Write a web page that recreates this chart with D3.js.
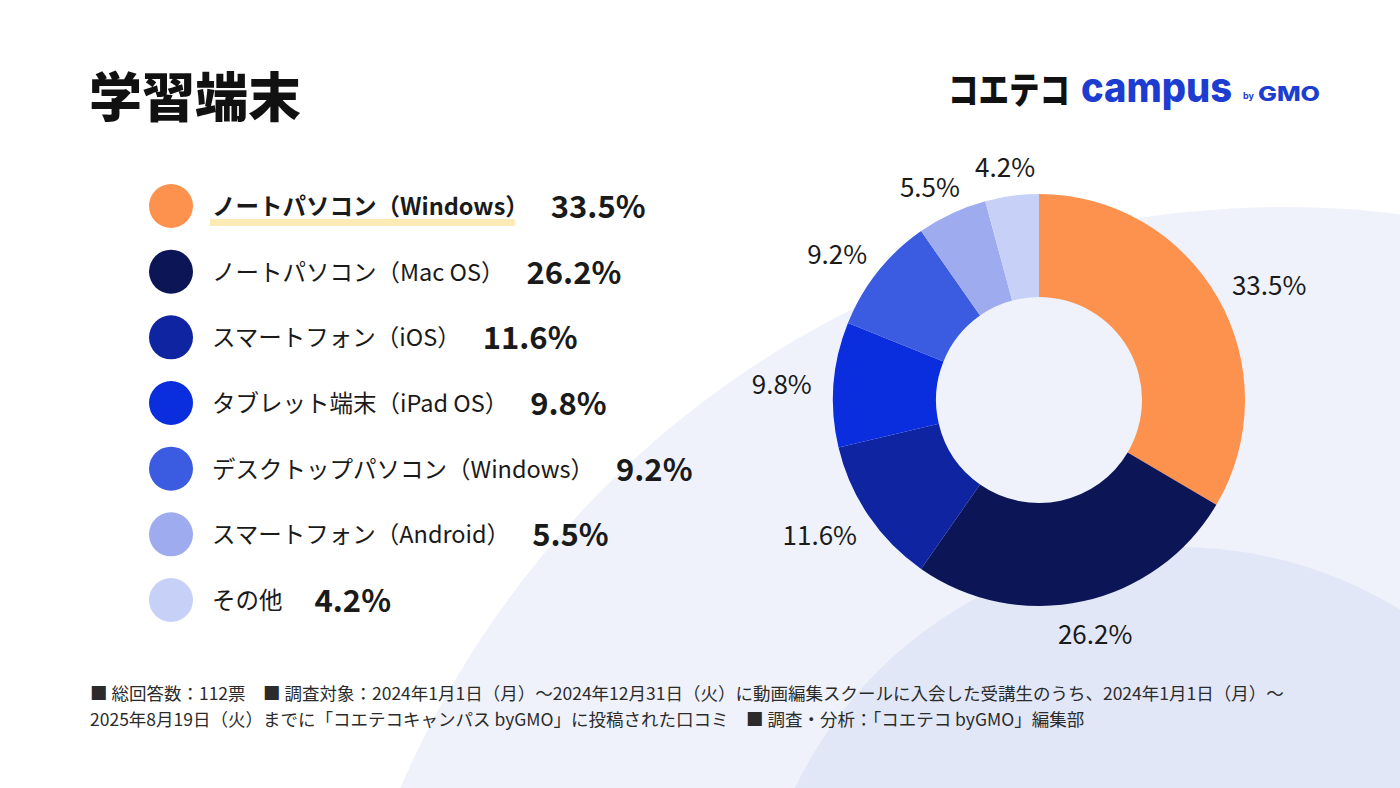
<!DOCTYPE html>
<html>
<head>
<meta charset="utf-8">
<script src="https://cdn.jsdelivr.net/npm/d3@7"></script>
<style>
  html, body { margin: 0; padding: 0; background: #fff; }
  svg { display: block; font-family: "Noto Sans CJK JP", "Noto Sans", sans-serif; }
</style>
</head>
<body>
<div id="chart"></div>
<script>
// data
const categories = [
  'ノートパソコン（Windows）',
  'ノートパソコン（Mac OS）',
  'スマートフォン（iOS）',
  'タブレット端末（iPad OS）',
  'デスクトップパソコン（Windows）',
  'スマートフォン（Android）',
  'その他'
];
const shares = [33.5, 26.2, 11.6, 9.8, 9.2, 5.5, 4.2];
const sliceColors = ['#fd914e', '#0c1657', '#0e24a1', '#0a2ddd', '#3b5be0', '#9eacef', '#c7d1f8'];

const title = '学習端末';
const footLines = [
  '■ 総回答数：112票　■ 調査対象：2024年1月1日（月）～2024年12月31日（火）に動画編集スクールに入会した受講生のうち、2024年1月1日（月）～',
  '2025年8月19日（火）までに「コエテコキャンパス byGMO」に投稿された口コミ　■ 調査・分析：「コエテコ byGMO」編集部'
];

const W = 1400, H = 788;
const textColor = '#1a1a1a';

const svg = d3.select('#chart')
  .append('svg')
  .attr('width', W)
  .attr('height', H);

// background shapes
svg.append('rect').attr('width', W).attr('height', H).attr('fill', '#ffffff');
svg.append('circle').attr('cx', 1283).attr('cy', 1168).attr('r', 961).attr('fill', '#eff2fb');
svg.append('circle').attr('cx', 1178).attr('cy', 972).attr('r', 425).attr('fill', '#e2e7f8');

// title
svg.append('text')
  .attr('x', 89)
  .attr('y', 117)
  .style('font-size', '53px')
  .style('font-weight', 900)
  .style('fill', '#111')
  .text(title);

// logo
const logo = svg.append('g');
logo.append('text')
  .attr('x', 948).attr('y', 104)
  .attr('textLength', 122).attr('lengthAdjust', 'spacingAndGlyphs')
  .style('font-size', '37px').style('font-weight', 900).style('fill', '#111')
  .text('コエテコ');
logo.append('text')
  .attr('x', 1081).attr('y', 102)
  .attr('textLength', 151).attr('lengthAdjust', 'spacingAndGlyphs')
  .style('font-family', 'Inter, Lato, sans-serif')
  .style('font-size', '41px').style('font-weight', 800).style('fill', '#1c3dcf')
  .text('campus');
logo.append('text')
  .attr('x', 1243).attr('y', 99)
  .style('font-family', 'Inter, sans-serif')
  .style('font-size', '9px').style('font-weight', 700).style('fill', '#1c3dcf')
  .text('by');
logo.append('text')
  .attr('x', 1258).attr('y', 101)
  .attr('textLength', 62).attr('lengthAdjust', 'spacingAndGlyphs')
  .style('font-family', 'Inter, sans-serif')
  .style('font-size', '20px').style('font-weight', 800).style('fill', '#1c3dcf')
  .text('GMO');

// legend
const legendY = d3.scalePoint()
  .domain(categories)
  .range([206, 600]);

const legend = svg.append('g');
categories.forEach((c, i) => {
  const y = legendY(c);
  const row = legend.append('g');
  row.append('circle')
    .attr('cx', 171).attr('cy', y).attr('r', 22)
    .attr('fill', sliceColors[i]);

  const label = row.append('text')
    .attr('x', 212).attr('y', y + 9)
    .style('font-size', '23.5px')
    .style('font-weight', i === 0 ? 700 : 400)
    .style('fill', textColor)
    .text(c);
  const lw = label.node().getComputedTextLength();

  if (i === 0) {
    row.insert('rect', 'text')
      .attr('x', 210).attr('y', y + 13)
      .attr('width', lw - 12).attr('height', 7)
      .attr('fill', '#fcebb4');
  }

  // full-width closing paren already carries trailing space
  const gap = c.endsWith('）') ? 22 : 32;
  row.append('text')
    .attr('x', 212 + lw + gap).attr('y', y + 12)
    .style('font-size', '31px')
    .style('font-weight', 700)
    .style('fill', textColor)
    .text(shares[i] + '%');
});

// donut
const cx = 1039, cy = 400;
const outerR = 206, innerR = 103;

const pie = d3.pie().sort(null).value(d => d);
const arcs = pie(shares);
const arc = d3.arc().innerRadius(innerR).outerRadius(outerR);

const donut = svg.append('g').attr('transform', `translate(${cx},${cy})`);
donut.selectAll('path')
  .data(arcs)
  .enter()
  .append('path')
  .attr('d', arc)
  .attr('fill', (d, i) => sliceColors[i]);

// outside labels
const labelR = 226;
const labelW = d => (String(d.data).length >= 4 ? 78 : 64);
donut.selectAll('.pct')
  .data(arcs)
  .enter()
  .append('text')
  .attr('class', 'pct')
  .attr('x', d => {
    const a = (d.startAngle + d.endAngle) / 2;
    return Math.sin(a) * labelR + Math.sin(a) * labelW(d) / 2;
  })
  .attr('y', d => {
    const a = (d.startAngle + d.endAngle) / 2;
    return -Math.cos(a) * labelR - Math.cos(a) * 11 + 12;
  })
  .attr('text-anchor', 'middle')
  .style('font-size', '26px')
  .style('fill', textColor)
  .text(d => d.data + '%');

// footer
svg.append('g')
  .selectAll('text')
  .data(footLines)
  .enter()
  .append('text')
  .attr('x', 90)
  .attr('y', (d, i) => 700 + i * 26)
  .style('font-size', '17.5px')
  .style('fill', '#2b2b2b')
  .text(d => d);
</script>
</body>
</html>
